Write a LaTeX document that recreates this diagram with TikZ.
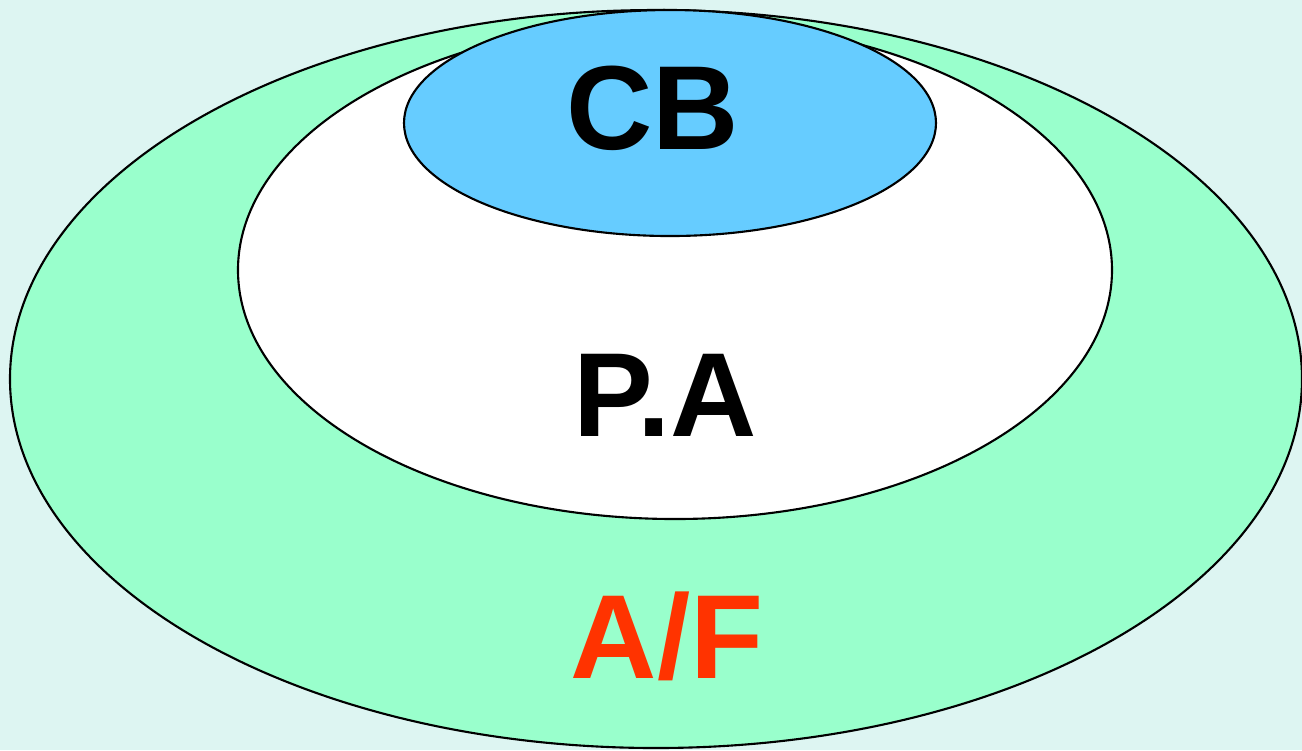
\documentclass[tikz,border=0pt]{standalone}
\usepackage{fontspec}
\setmainfont{Liberation Sans}
\usepackage{tikz}
\definecolor{bgteal}{HTML}{DDF5F2}
\definecolor{outergreen}{HTML}{99FFCC}
\definecolor{innerblue}{HTML}{66CCFF}
\definecolor{labelred}{HTML}{FF3300}
\tikzset{
	ring/.style = {draw = black, line width = 0.6pt},
	tag/.style = {font = \fontsize{34}{34}\selectfont\bfseries, inner sep = 0pt}
}

\begin{document}
\begin{tikzpicture}[x = 0.01cm, y = -0.01cm]
	\fill[bgteal] (0,0) rectangle (1302,750);
	\useasboundingbox (0,0) rectangle (1302,750);
	\begin{scope}
		\clip (0,0) rectangle (1302,750);
		\draw[ring, fill = outergreen] (656,379) ellipse (646 and 369);
		\draw[ring, fill = white] (675,270) ellipse (437 and 249);
		\draw[ring, fill = innerblue] (670,123) ellipse (266 and 113);
	\end{scope}
	\node[tag] (CB) at (653,108) {CB};
	\node[tag] (PA) at (665,395) {P.A};
	\node[tag, text = labelred] (AF) at (667,636) {A/F};
\end{tikzpicture}
\end{document}
